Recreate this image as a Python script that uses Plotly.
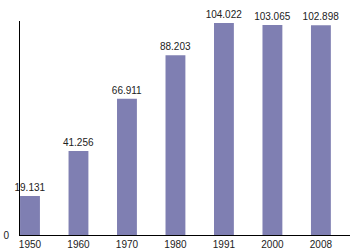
import plotly.graph_objects as go

years = ["1950", "1960", "1970", "1980", "1991", "2000", "2008"]
values = [19.131, 41.256, 66.911, 88.203, 104.022, 103.065, 102.898]
labels = ["19.131", "41.256", "66.911", "88.203", "104.022", "103.065", "102.898"]

fig = go.Figure(go.Bar(
    x=years, y=values, text=labels, textposition="outside",
    marker=dict(color="#7f7fb2", line=dict(width=0)),
    width=0.41, cliponaxis=False, constraintext="none",
    textfont=dict(family="Liberation Sans, Arial", size=10, color="#222"),
))
fig.update_layout(
    width=350, height=250, margin=dict(l=20, r=0, t=21, b=13),
    paper_bgcolor="white", plot_bgcolor="white", showlegend=False,
    font=dict(family="Liberation Sans, Arial", size=10, color="#222"),
    xaxis=dict(type="category", range=[-0.206, 6.6], showline=True, linecolor="black",
               linewidth=1, ticks="", showgrid=False),
    yaxis=dict(range=[0, 105], tickvals=[0], ticktext=["0"], showline=True,
               linecolor="black", linewidth=1, showgrid=False, zeroline=False, ticks="",
               ticklabelstandoff=8),
)
fig.write_html("out.html")
